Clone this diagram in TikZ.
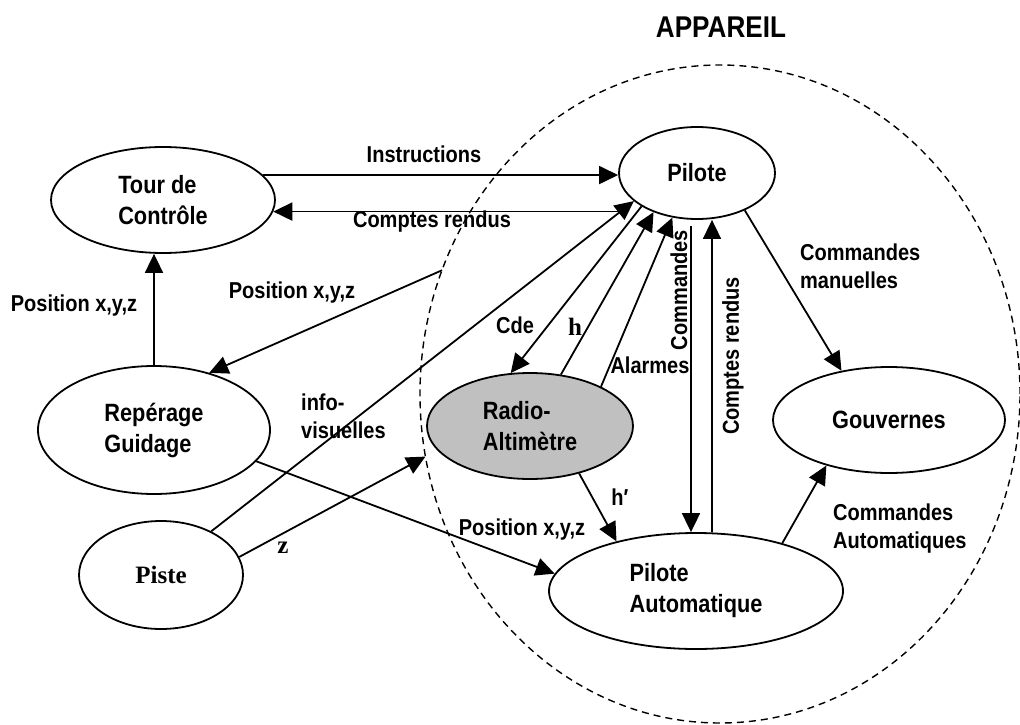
\documentclass[tikz,border=0pt]{standalone}
\usepackage{fontspec}
\setmainfont{Liberation Sans Bold}[FakeStretch=0.87]
\newfontfamily\romain{Liberation Serif Bold}
\usetikzlibrary{arrows.meta,shapes.geometric}
\definecolor{gris}{RGB}{192,192,192}

\begin{document}
\begin{tikzpicture}[x=1pt,y=-1pt,font=\fontsize{25}{31}\selectfont,>={Triangle[length=19pt,width=18pt]},
  bloc/.style={ellipse, draw, line width=1.8pt, inner sep=0pt, align=left},
  lien/.style={->, line width=1.8pt},
  etiq/.style={inner sep=0pt, align=left, font=\fontsize{23}{28}\selectfont},
  lettre/.style={inner sep=0pt, font=\romain\fontsize{25}{30}\selectfont}]
\useasboundingbox (0,0) rectangle (1020,725);
% frontiere de l'appareil
\node[ellipse, draw, dash pattern=on 7pt off 5pt, line width=1.4pt, minimum width=600pt, minimum height=658pt, inner sep=0pt, outer sep=0pt] (appareil) at (720,394) {};
\node[font=\fontsize{30}{36}\selectfont] (titre) at (721,27) {APPAREIL};
% blocs
\node[bloc, minimum width=224pt, minimum height=106pt] (tour) at (163,200) {Tour de\\Contrôle};
\node[bloc, minimum width=156pt, minimum height=92pt] (pilote) at (697,173) {Pilote};
\node[bloc, minimum width=232pt, minimum height=128pt] (rep) at (154,430) {Repérage\\Guidage};
\node[bloc, minimum width=164pt, minimum height=108pt, font=\romain\fontsize{25}{30}\selectfont] (piste) at (161,575) {Piste};
\node[bloc, fill=gris, minimum width=206pt, minimum height=106pt] (radio) at (530,426) {Radio-\\Altimètre};
\node[bloc, minimum width=232pt, minimum height=106pt] (gouv) at (889,420) {Gouvernes};
\node[bloc, minimum width=294pt, minimum height=116pt] (auto) at (696,591) {Pilote\\Automatique};
% liaisons
\draw[lien] (tour.14) -- (tour.14 -| pilote.west);
\draw[lien] (pilote.west |- tour.-6) -- (tour.-6);
\draw[lien] (rep.north) -- (rep.north |- tour.south);
\draw[lien] (appareil.156) -- (rep.46);
\draw[lien] (piste.41) -- (pilote.204);
\draw[lien] (pilote.211) -- (radio.110);
\draw[lien] (radio.59) -- (pilote.222);
\draw[lien] (radio.29) -- (pilote.241);
\coordinate (cmd) at ([xshift=-6pt,yshift=-6pt]pilote.south);
\coordinate (crb) at ([xshift=16pt]auto.north);
\draw[lien] (cmd) -- (cmd |- auto.north);
\draw[lien] (crb) -- (crb |- pilote.south);
\draw[lien] (pilote.-38) -- (gouv.134);
\draw[lien] (auto.29) -- (gouv.216);
\draw[lien] (radio.-44) -- (auto.148);
\draw[lien] (rep.-17) -- (auto.173);
\draw[lien] (piste.13) -- (appareil.192);
% etiquettes
\node[etiq] (instr) at (424,154) {Instructions};
\node[etiq] (cr1) at (432,222) {Comptes rendus};
\node[etiq] (pos1) at (74,306) {Position x,y,z};
\node[etiq] (pos2) at (292,293) {Position x,y,z};
\node[etiq, anchor=west] (info) at (301,416) {info-\\visuelles};
\node[lettre] (zz) at (283,548) {z};
\node[etiq] (cde) at (515,325) {Cde};
\node[lettre] (hh) at (575,327) {h};
\node[etiq] (alarm) at (650,365) {Alarmes};
\node[etiq, rotate=90] (cmdl) at (679,290) {Commandes};
\node[etiq, rotate=90] (cr2) at (733,356) {Comptes rendus};
\node[etiq, anchor=west] (man) at (800,266) {Commandes\\manuelles};
\node[etiq] (hp) at (620,497) {h′};
\node[etiq] (pos3) at (522,530) {Position x,y,z};
\node[etiq, anchor=west] (cauto) at (833,529) {Commandes\\Automatiques};
\end{tikzpicture}
\end{document}
